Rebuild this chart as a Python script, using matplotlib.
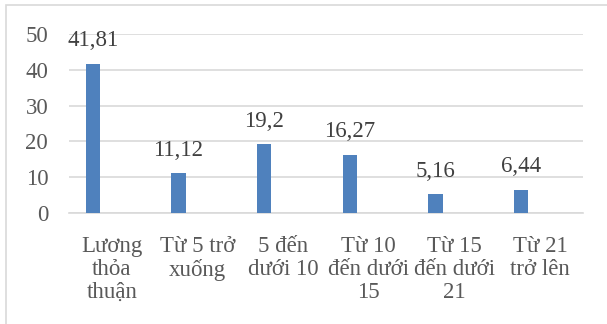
import matplotlib.pyplot as plt
import matplotlib.patches as mpatches
import numpy as np

plt.rcParams['font.family'] = ['Liberation Serif', 'DejaVu Serif']

nhom = ['Lương\nthỏa\nthuận', 'Từ 5 trở\nxuống', '5 đến\ndưới 10',
        'Từ 10\nđến dưới\n15', 'Từ 15\nđến dưới\n21', 'Từ 21\ntrở lên']
ty_le = [41.81, 11.12, 19.2, 16.27, 5.16, 6.44]
nhan = ['41,81', '11,12', '19,2', '16,27', '5,16', '6,44']
truc_y = [0, 10, 20, 30, 40, 50]

fig = plt.figure(figsize=(6.07, 3.24), dpi=100)
ax = fig.add_axes([0.1137, 0.3435, 0.8468, 0.5505])

# khung bieu do
khung = mpatches.Rectangle((6 / 607, -0.1), 1.2, 1 - 5 / 324 + 0.1,
                           transform=fig.transFigure, fill=False,
                           edgecolor='#d9d9d9', linewidth=1.2, clip_on=False)
fig.patches.append(khung)

x = np.arange(len(nhom))
cot = ax.bar(x - 0.222, ty_le, width=0.17, color='#4f81bd', zorder=3)
ax.bar_label(cot, labels=nhan, padding=9, fontsize=16.5, color='#404040')

ax.set_xlim(-0.5, len(nhom) - 0.5)
ax.set_ylim(0, 50)
ax.set_yticks(truc_y)
ax.set_xticks(x)
ax.set_xticklabels(nhom, fontsize=16.5, color='#595959', linespacing=1.12)
ax.tick_params(axis='y', length=0, pad=15, labelsize=16.5, labelcolor='#595959')
ax.tick_params(axis='x', length=0, pad=17)

ax.grid(axis='y', color='#d9d9d9', linewidth=1.2, zorder=0)
for s in ['top', 'right', 'left']:
    ax.spines[s].set_visible(False)
ax.spines['bottom'].set_color('#d9d9d9')
ax.spines['bottom'].set_linewidth(1.2)

plt.savefig('out.png', dpi=100)
